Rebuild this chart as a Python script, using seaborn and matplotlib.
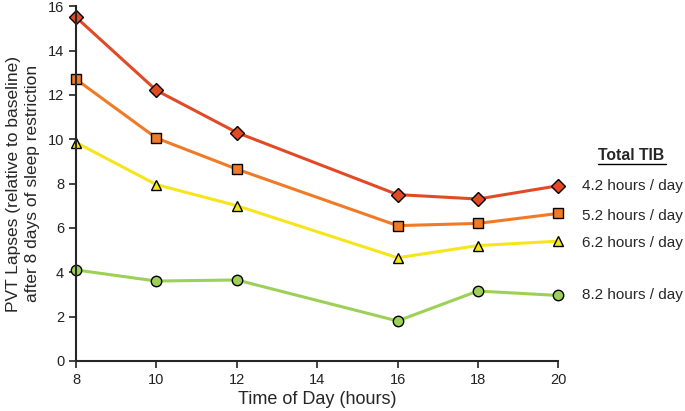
import pandas as pd
import matplotlib.pyplot as plt
import seaborn as sns
from matplotlib.lines import Line2D

hours = [8, 10, 12, 16, 18, 20]
tib_labels = ["4.2 hours / day", "5.2 hours / day", "6.2 hours / day", "8.2 hours / day"]
lapses_42 = [15.5, 12.2, 10.3, 7.5, 7.3, 7.9]
lapses_52 = [12.7, 10.05, 8.65, 6.1, 6.2, 6.65]
lapses_62 = [9.85, 7.95, 7.0, 4.65, 5.2, 5.4]
lapses_82 = [4.1, 3.6, 3.65, 1.8, 3.15, 2.95]

colors = ["#e24a26", "#f07a26", "#f7e51c", "#9dd057"]
marker_list = ["D", "s", "^", "o"]

rows = []
for lab, vals in zip(tib_labels, [lapses_42, lapses_52, lapses_62, lapses_82]):
    for h, v in zip(hours, vals):
        rows.append({"hour": h, "lapses": v, "tib": lab})
df = pd.DataFrame(rows)

sns.set_style("ticks")
plt.rcParams['font.family'] = ['Liberation Sans', 'DejaVu Sans']

fig = plt.figure(figsize=(6.85, 4.11), dpi=100)
ax = fig.add_axes([0.111, 0.122, 0.704, 0.863])

sns.lineplot(data=df, x="hour", y="lapses", hue="tib", style="tib",
             palette=dict(zip(tib_labels, colors)),
             markers=dict(zip(tib_labels, marker_list)), dashes=False,
             markersize=7.5, markeredgecolor="black", markeredgewidth=1,
             linewidth=2.2, legend=False, ax=ax, clip_on=False)

ax.set_xlim(8, 20)
ax.set_ylim(0, 16)
ax.set_xticks([8, 10, 12, 14, 16, 18, 20])
ax.set_yticks(range(0, 17, 2))
ax.tick_params(labelsize=10.5, length=5, width=1.2, colors="#222222")
for s in ["left", "bottom"]:
    ax.spines[s].set_linewidth(1.5)
sns.despine(ax=ax)

ax.set_xlabel("Time of Day (hours)", fontsize=13, labelpad=3)
ax.set_ylabel("PVT Lapses (relative to baseline)\nafter 8 days of sleep restriction",
              fontsize=12.5, linespacing=1.3, labelpad=6)

# right-hand labels
fig.text(0.921, 0.621, "Total TIB", fontsize=11.3, fontweight="bold", ha="center", va="center")
fig.add_artist(Line2D([0.873, 0.972], [0.600, 0.600], color="black", linewidth=1))
label_y = [0.548, 0.475, 0.409, 0.282]
for lab, yy in zip(tib_labels, label_y):
    fig.text(0.849, yy, lab, fontsize=11, ha="left", va="center")

plt.savefig("out.png", dpi=100)
